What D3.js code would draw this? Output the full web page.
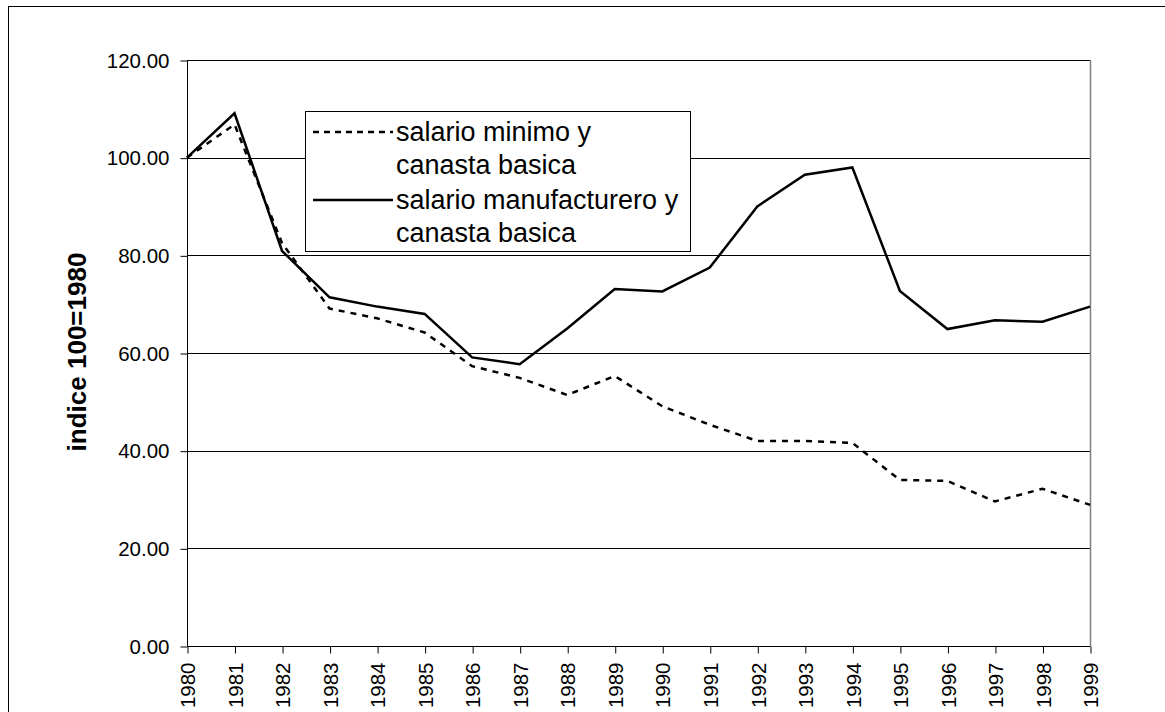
<!DOCTYPE html>
<html><head><meta charset="utf-8">
<script src="https://cdn.jsdelivr.net/npm/d3@7"></script>
<style>body{margin:0;background:#fff}svg{display:block}text{font-family:"Liberation Sans",Arial,sans-serif}</style>
</head><body><svg id="c" width="1165" height="712"></svg>
<script>
const years = [1980,1981,1982,1983,1984,1985,1986,1987,1988,1989,1990,1991,1992,1993,1994,1995,1996,1997,1998,1999];
const salarioMinimo = [100,106.8,82.5,69.1,67.1,64.2,57.3,54.9,51.4,55.3,49.1,45.3,42.0,42.0,41.6,34.0,33.8,29.6,32.2,28.9];
const salarioManufacturero = [100,109.1,80.9,71.4,69.5,68.0,59.1,57.7,65.0,73.1,72.6,77.5,90.0,96.5,98.0,72.7,64.9,66.7,66.4,69.5];
const yTicks = [0,20,40,60,80,100,120];
const seriesNames = ["salario minimo y|canasta basica","salario manufacturero y|canasta basica"];
const yTitle = "indice 100=1980";

const svg = d3.select("#c");
const L = 187, R = 1090, T = 60, B = 646;
const x = d3.scaleLinear().domain([1980,1999]).range([L,R]);
const y = d3.scaleLinear().domain([0,120]).range([B,T]);

// outer frame
svg.append("rect").attr("x",8.5).attr("y",6.5).attr("width",1200).attr("height",800)
  .attr("fill","none").attr("stroke","#000").attr("stroke-width",1);

// gridlines
svg.append("g").selectAll("line").data(yTicks.filter(d=>d>0)).join("line")
  .attr("x1",L).attr("x2",R).attr("y1",d=>Math.round(y(d))+0.5).attr("y2",d=>Math.round(y(d))+0.5)
  .attr("stroke","#000").attr("stroke-width",1);
// right border
svg.append("line").attr("x1",R+0.5).attr("x2",R+0.5).attr("y1",T).attr("y2",B)
  .attr("stroke","#808080").attr("stroke-width",1.5);

// y axis
const yAxis = d3.axisLeft(y).tickValues(yTicks).tickFormat(d3.format(".2f")).tickSize(7).tickPadding(11);
const gy = svg.append("g").attr("transform",`translate(${L+0.5},0.5)`).call(yAxis);
gy.select(".domain").attr("d",`M0,${T}V${B}`).attr("stroke","#000");
gy.selectAll("text").attr("font-size","20.5px").attr("fill","#000").attr("font-family","Liberation Sans, Arial, sans-serif");

// x axis
const xAxis = d3.axisBottom(x).tickValues(years).tickFormat(d3.format("d")).tickSize(7);
const gx = svg.append("g").attr("transform",`translate(0.5,${B+0.5})`).call(xAxis);
gx.select(".domain").attr("d",`M${L},0H${R}`).attr("stroke","#000");
gx.selectAll("text").attr("font-size","20.5px").attr("fill","#000").attr("font-family","Liberation Sans, Arial, sans-serif")
  .attr("transform","rotate(-90)").attr("text-anchor","end").attr("x",-16).attr("y",0).attr("dy","0.35em");

// lines
const line = d3.line().x((d,i)=>x(years[i])).y(d=>y(d));
svg.append("path").datum(salarioMinimo).attr("d",line).attr("fill","none")
  .attr("stroke","#000").attr("stroke-width",2.5).attr("stroke-dasharray","6,6");
svg.append("path").datum(salarioManufacturero).attr("d",line).attr("fill","none")
  .attr("stroke","#000").attr("stroke-width",2.5);

// legend
const lg = svg.append("g");
lg.append("rect").attr("x",305.5).attr("y",111.5).attr("width",385).attr("height",140)
  .attr("fill","#fff").attr("stroke","#000").attr("stroke-width",1);
const styles = ["6,5",null];
const ly = [132,200];
seriesNames.forEach((n,i)=>{
  const l = lg.append("line").attr("x1",313).attr("x2",393).attr("y1",ly[i]).attr("y2",ly[i])
    .attr("stroke","#000").attr("stroke-width",2.5);
  if(styles[i]) l.attr("stroke-dasharray",styles[i]);
  const t = lg.append("text").attr("x",396).attr("y",ly[i]).attr("font-size","27px").attr("fill","#000");
  n.split("|").forEach((s,j)=>t.append("tspan").attr("x",396).attr("dy",j===0?"0.35em":"1.2em").text(s));
});

// y title
svg.append("text").attr("transform",`translate(86,352) rotate(-90)`).attr("text-anchor","middle")
  .attr("font-size","26px").attr("font-weight","bold").attr("fill","#000").text(yTitle);
</script></body></html>
